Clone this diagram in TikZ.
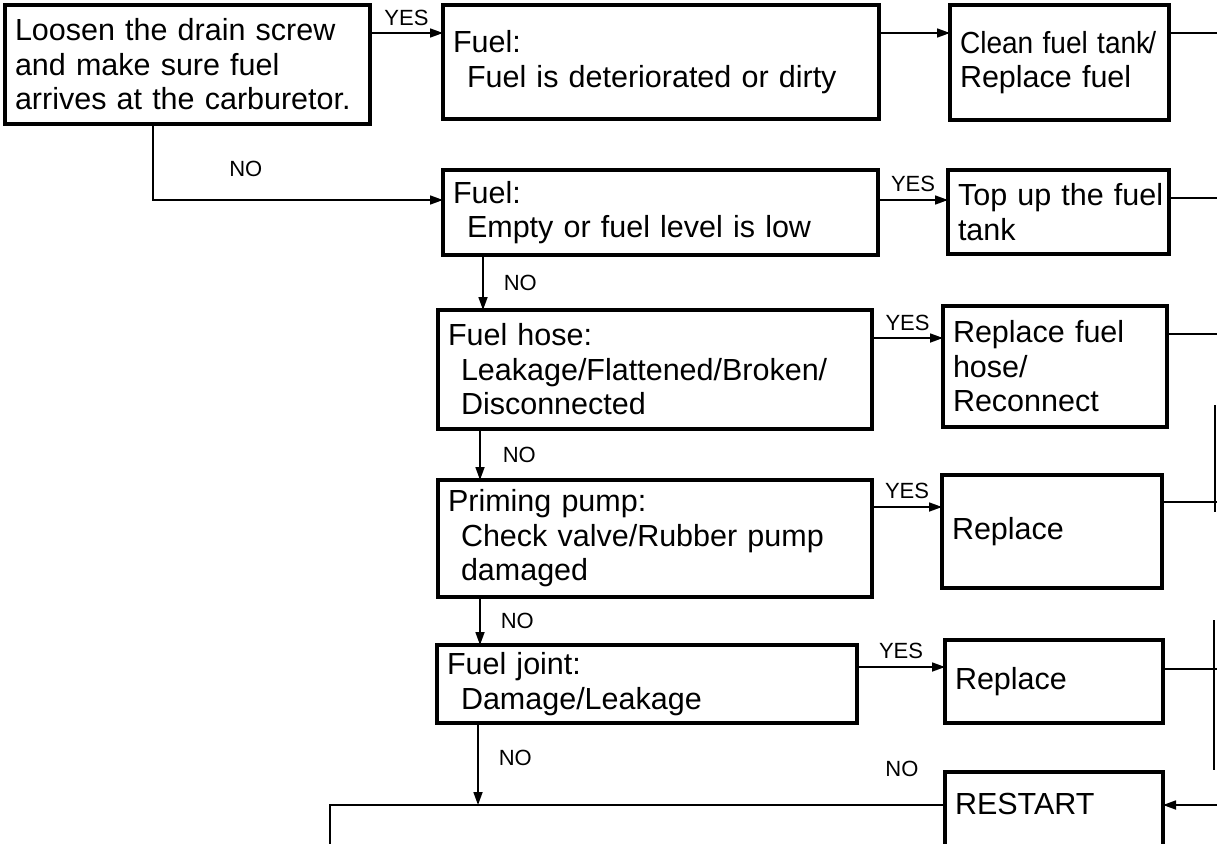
\documentclass[tikz,border=0pt]{standalone}
\usepackage{fontspec}
\usepackage{graphicx}
\setmainfont{Liberation Sans}
\usetikzlibrary{arrows.meta}
\begin{document}
\begin{tikzpicture}[x=1pt,y=-1pt,
  box/.style={draw, line width=3.2pt, rectangle, align=left, inner xsep=10pt, inner ysep=0pt,
              outer sep=0pt, font=\fontsize{30.5}{34.5}\selectfont},
  conn/.style={line width=1.7pt},
  arr/.style={conn, -{Triangle[length=13pt,width=9pt]}},
  lab/.style={font=\fontsize{22}{25}\selectfont, inner sep=0pt}]
\useasboundingbox (0,0) rectangle (1217,843);
\clip (0,0) rectangle (1217,843);

% boxes
\node[box, text width=345pt, minimum height=119pt] (A) at (187.5,64.5)
  {\mbox{Loosen the drain screw}\\\mbox{and make sure fuel}\\\mbox{arrives at the carburetor.}};
\node[box, text width=416pt, minimum height=114pt] (B) at (661,62)
  {\mbox{Fuel:}\\\mbox{\hspace*{14pt}Fuel is deteriorated or dirty}};
\node[box, text width=199pt, minimum height=115pt] (C) at (1059.5,62.5)
  {\scalebox{0.92}[1]{\mbox{Clean fuel tank\kern-2pt/}}\\\mbox{Replace fuel}};
\node[box, text width=415pt, minimum height=85pt] (D) at (660.5,212.5)
  {\mbox{Fuel:}\\\mbox{\hspace*{14pt}Empty or fuel level is low}};
\node[box, text width=201pt, minimum height=84pt] (E) at (1058.5,212)
  {\mbox{Top up the fuel}\\\mbox{tank}};
\node[box, text width=414pt, minimum height=119pt] (F) at (655,369.5)
  {\mbox{Fuel hose:}\\\mbox{\hspace*{13pt}Leakage/Flattened/Broken/}\\\mbox{\hspace*{13pt}Disconnected}};
\node[box, text width=204pt, minimum height=121pt] (G) at (1055,366.5)
  {\mbox{Replace fuel}\\\mbox{hose/}\\\mbox{Reconnect}};
\node[box, text width=414pt, minimum height=117pt] (H) at (655,538.5)
  {\mbox{Priming pump:}\\\mbox{\hspace*{13pt}Check valve/Rubber pump}\\\mbox{\hspace*{13pt}damaged}};
\node[box, text width=200pt, minimum height=113pt] (I) at (1052,531.5) {Replace};
\node[box, text width=400pt, minimum height=78pt] (J) at (647,684)
  {\mbox{Fuel joint:}\\\mbox{\hspace*{14pt}Damage/Leakage}};
\node[box, text width=198pt, minimum height=83pt] (K) at (1054,681.5) {Replace};
\node[box, text width=198pt, text height=22pt, text depth=46pt, inner ysep=20pt] (R) at (1054,826) {RESTART};

% free ends
\coordinate (e1) at (1217,33);
\coordinate (e2) at (1217,198);
\coordinate (e3) at (1217,334);
\coordinate (e4) at (1217,502);
\coordinate (e5) at (1217,669);
\coordinate (e6) at (1217,805);
\coordinate (t1) at (1215,405);
\coordinate (t2) at (1215,512);
\coordinate (t3) at (1214,620);
\coordinate (t4) at (1214,770);
\coordinate (j1) at (478,805);
\coordinate (b1) at (330,805);
\coordinate (b2) at (330,850);

% connectors
\draw[arr] ([yshift=-28pt]A.north east) -- node[lab, above=6pt]{YES} ([yshift=-28pt]B.north west);
\draw[arr] ([yshift=-28pt]B.north east) -- ([yshift=-28pt]C.north west);
\draw[conn] ([yshift=-28pt]C.north east) -- (e1);
\draw[arr] ([xshift=148pt]A.south west) |- node[lab, pos=0.66, above=22pt]{NO} ([yshift=-30pt]D.north west);
\draw[arr] ([yshift=-30pt]D.north east) -- node[lab, above=7pt]{YES} ([yshift=-30pt]E.north west);
\draw[conn] ([yshift=-28pt]E.north east) -- (e2);
\draw[arr] ([xshift=40pt]D.south west) -- node[lab, right=20pt]{NO} ([xshift=45pt]F.north west);
\draw[arr] ([yshift=-28pt]F.north east) -- node[lab, above=6pt]{YES} ([yshift=-32pt]G.north west);
\draw[conn] ([yshift=-28pt]G.north east) -- (e3);
\draw[arr] ([xshift=42pt]F.south west) -- node[lab, right=22pt]{NO} ([xshift=42pt]H.north west);
\draw[arr] ([yshift=-27pt]H.north east) -- node[lab, above=7pt]{YES} ([yshift=-32pt]I.north west);
\draw[conn] ([yshift=-27pt]I.north east) -- (e4);
\draw[arr] ([xshift=42pt]H.south west) -- node[lab, right=20pt]{NO} ([xshift=43pt]J.north west);
\draw[arr] ([yshift=-22pt]J.north east) -- node[lab, above=7pt]{YES} ([yshift=-27pt]K.north west);
\draw[conn] ([yshift=-29pt]K.north east) -- (e5);
\draw[arr] ([xshift=41pt]J.south west) -- node[lab, pos=0.42, right=20pt]{NO} (j1);
\draw[arr] (e6) -- ([yshift=-33pt]R.north east);
\draw[conn] ([yshift=-33pt]R.north west) -- node[lab, pos=0.07, above=27pt]{NO} (b1) -- (b2);
\draw[conn] (t1) -- (t2);
\draw[conn] (t3) -- (t4);
\end{tikzpicture}
\end{document}
